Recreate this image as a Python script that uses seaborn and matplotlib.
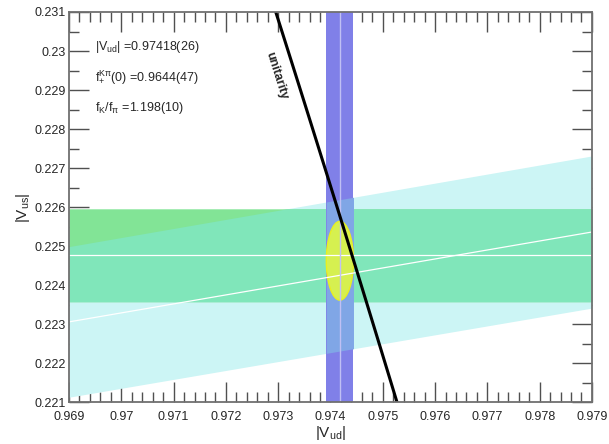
import numpy as np
import pandas as pd
import matplotlib.pyplot as plt
import seaborn as sns
from matplotlib.patches import Ellipse
from matplotlib.ticker import MultipleLocator, FuncFormatter

# constraints
vud_center = 0.97418
vud_err = 0.00026
vus_kl3 = 0.22477          # from f+(0)
vus_kl3_err = 0.00119
ratio = 0.23020            # |Vus/Vud| from fK/fpi
ratio_err = 0.00199
fit_center = [0.97418, 0.22463]
fit_halfwidth = [0.00026, 0.00101]
x_range = [0.969, 0.979]
y_range = [0.221, 0.231]
labels = [r'$|\mathrm{V}_{\mathrm{ud}}|$ =0.97418(26)',
          r'$\mathrm{f}_{+}^{\mathrm{K\pi}}(0)$ =0.9644(47)',
          r'$\mathrm{f}_{\mathrm{K}}/\mathrm{f}_{\pi}$ =1.198(10)']

sns.set_style('ticks')
plt.rcParams['font.family'] = ['Liberation Sans', 'DejaVu Sans']
plt.rcParams['mathtext.fontset'] = 'custom'
plt.rcParams['mathtext.rm'] = 'Liberation Sans'
plt.rcParams['mathtext.it'] = 'Liberation Sans'
plt.rcParams['mathtext.sf'] = 'Liberation Sans'

fig = plt.figure(figsize=(6.09, 4.44), dpi=100)
ax = fig.add_axes([0.1133, 0.0935, 0.8587, 0.8795])

xs = np.linspace(x_range[0], x_range[1], 600)
cyan_lo = (ratio - ratio_err) * xs
cyan_hi = (ratio + ratio_err) * xs
g_lo = vus_kl3 - vus_kl3_err
g_hi = vus_kl3 + vus_kl3_err

# fK/fpi band
ax.fill_between(xs, cyan_lo, cyan_hi, color='#ccf5f5', lw=0, zorder=1)
# f+(0) band
ax.fill_between(xs, g_lo, g_hi, color='#82e496', lw=0, zorder=2)
low = np.maximum(cyan_lo, g_lo)
high = np.minimum(cyan_hi, g_hi)
ax.fill_between(xs, low, high, where=high > low, color='#80e6ba', lw=0, zorder=3)

# Vud band
ax.axvspan(vud_center - vud_err, vud_center + vud_err, color='#8080e8', lw=0, zorder=4)
bx = np.array([vud_center - vud_err, vud_center + vud_err])
ax.fill_between(bx, (ratio - ratio_err) * bx, (ratio + ratio_err) * bx,
                color='#80a6e6', lw=0, zorder=5)

# fit ellipse
ell = Ellipse(fit_center, 2 * fit_halfwidth[0], 2 * fit_halfwidth[1],
              facecolor='#d6f050', edgecolor='#e8f020', lw=1, zorder=6)
ax.add_patch(ell)

# central values
center_lines = pd.DataFrame({'x': x_range, 'kl3': [vus_kl3, vus_kl3],
                             'kl2': [ratio * x_range[0], ratio * x_range[1]]})
sns.lineplot(data=center_lines, x='x', y='kl3', color='white', lw=0.9, ax=ax, zorder=7)
sns.lineplot(data=center_lines, x='x', y='kl2', color='white', lw=0.9, ax=ax, zorder=7)
ax.axvline(vud_center, color='#c0c0f4', lw=1.0, zorder=7)

# unitarity
vus_grid = np.linspace(y_range[0], y_range[1], 50)
unit = pd.DataFrame({'vud': np.sqrt(1 - vus_grid ** 2), 'vus': vus_grid})
sns.lineplot(data=unit, x='vud', y='vus', sort=False, color='black', lw=2.2, ax=ax, zorder=8)
ax.text(0.97296, 0.22937, 'unitarity', rotation=-72.5, ha='center', va='center',
        fontsize=9, fontweight='bold', zorder=9)

for i, lab in enumerate(labels):
    ax.text(0.05, [0.91, 0.833, 0.754][i], lab, transform=ax.transAxes,
            fontsize=9, ha='left', va='center', zorder=9)

ax.set_xlim(x_range)
ax.set_ylim(y_range)
ax.xaxis.set_major_locator(MultipleLocator(0.001))
ax.xaxis.set_minor_locator(MultipleLocator(0.0002))
ax.yaxis.set_major_locator(MultipleLocator(0.001))
ax.yaxis.set_minor_locator(MultipleLocator(0.0005))
fmt = FuncFormatter(lambda v, p: f'{v:.3f}'.rstrip('0'))
ax.xaxis.set_major_formatter(fmt)
ax.yaxis.set_major_formatter(fmt)
ax.tick_params(which='both', direction='in', top=True, right=True, color='#505050',
               labelsize=9, width=1.0)
ax.tick_params(which='major', length=14.5)
ax.tick_params(which='minor', length=7.2)
ax.tick_params(axis='x', pad=6)
ax.tick_params(axis='y', pad=2)
for s in ax.spines.values():
    s.set_color('#707070')
    s.set_linewidth(1.3)
    s.set_zorder(10)

ax.set_xlabel(r'$|\mathrm{V}_{\mathrm{ud}}|$', fontsize=11, labelpad=1)
ax.set_ylabel(r'$|\mathrm{V}_{\mathrm{us}}|$', fontsize=11, labelpad=2)

fig.savefig('out.png', dpi=100)
